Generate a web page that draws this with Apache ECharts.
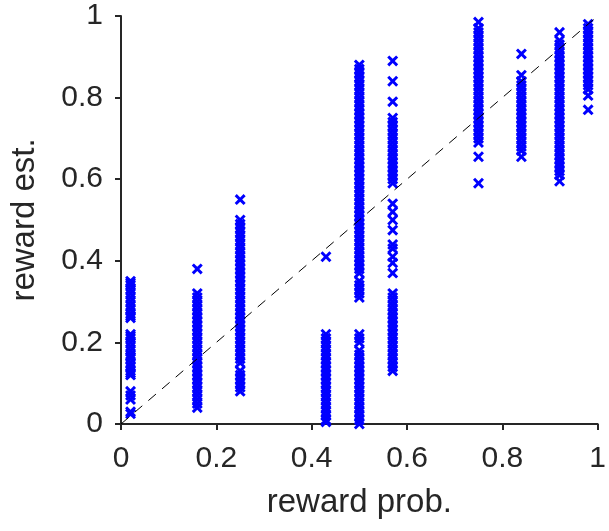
<!DOCTYPE html>
<html>
<head>
<meta charset="utf-8">
<script src="https://cdn.jsdelivr.net/npm/echarts@6/dist/echarts.min.js"></script>
<style>
  html, body { margin: 0; padding: 0; background: #fff; }
  #chart { width: 609px; height: 531px; }
</style>
</head>
<body>
<div id="chart"></div>
<script>
// reward probabilities (x columns)
const probs = [0.02, 0.16, 0.25, 0.43, 0.5, 0.57, 0.75, 0.84, 0.92, 0.98]

// reward estimates per column
const est002 = [0.025, 0.03, 0.06, 0.07, 0.08, 0.12, 0.125, 0.13, 0.14, 0.15, 0.16, 0.165, 0.17, 0.18, 0.19, 0.2, 0.21, 0.215, 0.22,
  0.26, 0.265, 0.27, 0.28, 0.29, 0.3, 0.31, 0.32, 0.33, 0.34, 0.345, 0.35]
const est016 = [0.04, 0.05, 0.06, 0.07, 0.08, 0.09, 0.1, 0.11, 0.12, 0.13, 0.14, 0.15, 0.16, 0.17, 0.18, 0.19, 0.2, 0.21,
  0.22, 0.23, 0.24, 0.25, 0.26, 0.27, 0.28, 0.29, 0.3, 0.31, 0.32, 0.38]
const est025 = [0.08, 0.09, 0.1, 0.11, 0.12, 0.13, 0.15, 0.16, 0.17, 0.18, 0.19, 0.2, 0.21, 0.22, 0.23, 0.24, 0.25, 0.26,
  0.27, 0.28, 0.29, 0.3, 0.31, 0.32, 0.33, 0.34, 0.35, 0.36, 0.37, 0.38, 0.39, 0.4, 0.41, 0.42, 0.43, 0.44, 0.45,
  0.46, 0.47, 0.48, 0.49, 0.5, 0.55]
const est043 = [0.005, 0.01, 0.02, 0.03, 0.04, 0.05, 0.06, 0.07, 0.08, 0.09, 0.1, 0.11, 0.12, 0.13, 0.14, 0.15, 0.16,
  0.17, 0.18, 0.19, 0.2, 0.21, 0.22, 0.41]
const est050 = [0.0, 0.01, 0.02, 0.03, 0.04, 0.05, 0.06, 0.07, 0.08, 0.09, 0.1, 0.11, 0.12, 0.13, 0.14, 0.15, 0.16, 0.17,
  0.18, 0.2, 0.21, 0.22, 0.31, 0.32, 0.33, 0.34, 0.35, 0.37, 0.38, 0.39, 0.4, 0.41, 0.42, 0.43, 0.44, 0.45, 0.46,
  0.47, 0.48, 0.49, 0.5, 0.51, 0.52, 0.53, 0.54, 0.55, 0.56, 0.57, 0.58, 0.59, 0.6, 0.61, 0.62, 0.63, 0.64, 0.65,
  0.66, 0.67, 0.68, 0.69, 0.7, 0.71, 0.72, 0.73, 0.74, 0.75, 0.76, 0.77, 0.78, 0.79, 0.8, 0.81, 0.82, 0.83, 0.84,
  0.85, 0.86, 0.87, 0.88]
const est057 = [0.13, 0.14, 0.15, 0.16, 0.17, 0.18, 0.19, 0.2, 0.21, 0.22, 0.23, 0.24, 0.25, 0.26, 0.27, 0.28, 0.29, 0.3,
  0.31, 0.32, 0.37, 0.395, 0.41, 0.43, 0.44, 0.475, 0.5, 0.52, 0.54, 0.59, 0.6, 0.61, 0.62, 0.63, 0.64, 0.65, 0.66,
  0.67, 0.68, 0.69, 0.7, 0.71, 0.72, 0.73, 0.74, 0.75, 0.79, 0.84, 0.89]
const est075 = [0.59, 0.655, 0.69, 0.7, 0.71, 0.72, 0.73, 0.74, 0.75, 0.76, 0.77, 0.78, 0.79, 0.8, 0.81, 0.82, 0.83, 0.84,
  0.85, 0.86, 0.87, 0.88, 0.89, 0.9, 0.91, 0.92, 0.93, 0.94, 0.95, 0.96, 0.97, 0.985]
const est084 = [0.655, 0.67, 0.68, 0.69, 0.7, 0.71, 0.72, 0.73, 0.74, 0.75, 0.76, 0.77, 0.78, 0.79, 0.8, 0.81, 0.82, 0.83,
  0.84, 0.855, 0.907]
const est092 = [0.595, 0.61, 0.62, 0.63, 0.64, 0.65, 0.66, 0.67, 0.68, 0.69, 0.7, 0.71, 0.72, 0.73, 0.74, 0.75, 0.76, 0.77,
  0.78, 0.79, 0.8, 0.81, 0.82, 0.83, 0.84, 0.85, 0.86, 0.87, 0.88, 0.89, 0.9, 0.91, 0.92, 0.93, 0.94, 0.96]
const est098 = [0.77, 0.805, 0.82, 0.83, 0.84, 0.85, 0.86, 0.87, 0.88, 0.89, 0.9, 0.91, 0.92, 0.93, 0.94, 0.95, 0.96, 0.97, 0.98]

const estimates = [est002, est016, est025, est043, est050, est057, est075, est084, est092, est098]

const diagonal = [[0, 0], [1, 1]]

const points = []
estimates.forEach((col, i) => {
  col.forEach(v => points.push([probs[i], v]))
})

const AXIS = '#262626'
const FONT = 'Liberation Sans, Arial, sans-serif'
// filled "x" marker, MATLAB style
const CROSS = 'path://M0,1.9 L1.9,0 L5,3.1 L8.1,0 L10,1.9 L6.9,5 L10,8.1 L8.1,10 L5,6.9 L1.9,10 L0,8.1 L3.1,5 Z'

const chart = echarts.init(document.getElementById('chart'))
chart.setOption({
  animation: false,
  grid: { left: 118, right: 5, top: 16, bottom: 107, containLabel: false },
  xAxis: {
    type: 'value',
    min: 0,
    max: 1,
    interval: 0.2,
    name: 'reward prob.',
    nameLocation: 'middle',
    nameGap: 62,
    nameTextStyle: { fontSize: 33, color: AXIS, fontFamily: FONT },
    axisLine: { show: true, lineStyle: { color: AXIS, width: 2 } },
    axisTick: { show: true, inside: false, length: 6, lineStyle: { color: AXIS, width: 2 } },
    axisLabel: { fontSize: 30, color: AXIS, fontFamily: FONT, margin: 20, formatter: v => String(+v.toFixed(1)) },
    splitLine: { show: false },
  },
  yAxis: {
    type: 'value',
    min: 0,
    max: 1,
    interval: 0.2,
    name: 'reward est.',
    nameLocation: 'middle',
    nameGap: 80,
    nameTextStyle: { fontSize: 33, color: AXIS, fontFamily: FONT },
    axisLine: { show: true, lineStyle: { color: AXIS, width: 2 } },
    axisTick: { show: true, inside: false, length: 6, lineStyle: { color: AXIS, width: 2 } },
    axisLabel: { fontSize: 30, color: AXIS, fontFamily: FONT, margin: 18, formatter: v => String(+v.toFixed(1)) },
    splitLine: { show: false },
  },
  series: [
    {
      type: 'line',
      data: diagonal,
      symbol: 'none',
      lineStyle: { color: '#000', width: 1, type: [10, 8] },
      z: 3,
    },
    {
      type: 'scatter',
      data: points,
      symbol: CROSS,
      symbolSize: 11,
      itemStyle: { color: '#0000ff', opacity: 1 },
      z: 2,
    },
  ],
})
</script>
</body>
</html>
